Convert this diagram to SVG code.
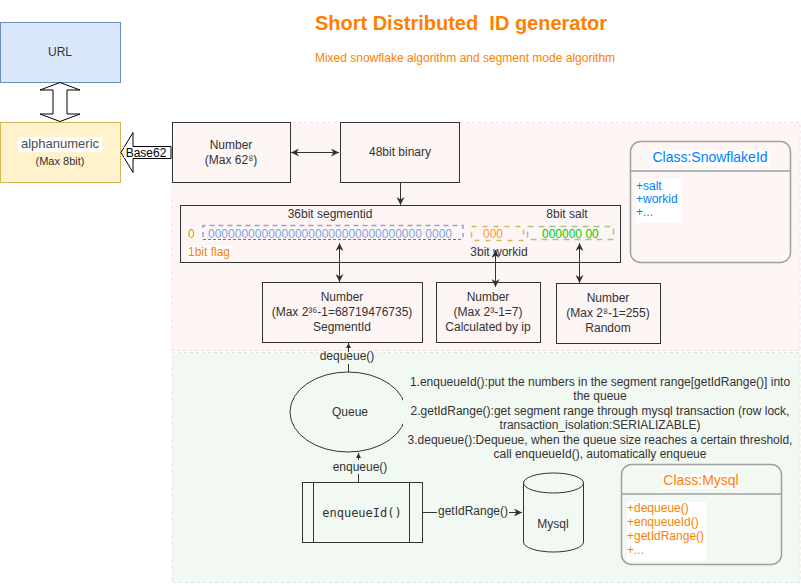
<svg xmlns="http://www.w3.org/2000/svg" width="801" height="586" viewBox="0 0 801 586">
<defs>
<marker id="arr" viewBox="0 0 10 10" refX="10" refY="5" markerWidth="8" markerHeight="8" markerUnits="userSpaceOnUse" orient="auto-start-reverse"><path d="M0,0 L10,5 L0,10 L3,5 z" fill="#333"/></marker>
<marker id="sm" viewBox="0 0 10 10" refX="10" refY="5" markerWidth="5" markerHeight="5" markerUnits="userSpaceOnUse" orient="auto-start-reverse"><path d="M0,0 L10,5 L0,10 z" fill="#333"/></marker>
</defs>
<style>
text{font-family:"Liberation Sans",Arial,sans-serif;font-size:12px;fill:#333}
.c{text-anchor:middle}
.box{fill:none;stroke:#333;stroke-width:1}
.conn{stroke:#333;stroke-width:1;fill:none}
.or{fill:#FF8000}
.bl{fill:#007FFF}
.cls{fill:none;stroke:#a0a0a0;stroke-width:1.5}
.wbg{fill:#fff}
.gbg{fill:#f2f8f2}
</style>
<rect width="801" height="586" fill="#fff"/>

<g id="region-snowflake">
<rect x="172" y="122.5" width="628" height="228" fill="#fef5f5" stroke="#f1dddc" stroke-dasharray="3 3"/>
</g>
<g id="region-segment">
<rect x="172" y="352.5" width="628" height="230" fill="#f2f8f2" stroke="#dde9d6" stroke-dasharray="3 3"/>
</g>

<g id="title">
<text x="461" y="30" class="c or" style="font-size:20px;font-weight:bold">Short Distributed &#160;ID generator</text>
<text x="465" y="62" class="c or">Mixed snowflake algorithm and segment mode algorithm</text>
</g>

<g id="url">
<rect x="0.5" y="22.5" width="120" height="60" fill="#dae8fc" stroke="#6c8ebf"/>
<text x="60" y="56" class="c">URL</text>
</g>

<g id="url-alnum-arrow">
<polygon points="60,82.5 80,90 67,90 67,114 80,114 60,121.5 40,114 53,114 53,90 40,90" fill="#fff" stroke="#000"/>
</g>

<g id="alphanumeric">
<rect x="0.5" y="122.5" width="120" height="60" fill="#fff2cc" stroke="#d6b656"/>
<rect x="18" y="137" width="84" height="15" class="wbg"/>
<text x="60" y="148" class="c" style="font-size:13px;fill:#4d4d4d">alphanumeric</text>
<text x="60" y="165" class="c" style="font-size:11px">(Max 8bit)</text>
</g>

<g id="base62-arrow">
<polygon points="121,152.5 133,132.5 133,146.5 171,146.5 171,158.5 133,158.5 133,172.5" fill="#fff" stroke="#000"/>
<rect x="124" y="147" width="46" height="11" class="wbg"/>
<text x="146" y="157" class="c" style="fill:#000">Base62</text>
</g>

<g id="number62">
<rect x="172.5" y="122.5" width="118" height="60" class="box"/>
<text x="231" y="149" class="c">Number</text>
<text x="231" y="164" class="c">(Max 62⁸)</text>
</g>

<g id="binary48">
<rect x="340.5" y="122.5" width="119" height="60" class="box"/>
<text x="400" y="156" class="c">48bit binary</text>
</g>

<g id="bits">
<rect x="180.5" y="205.5" width="440" height="57" class="box"/>
<text x="330" y="218" class="c">36bit segmentid</text>
<text x="567" y="218" class="c">8bit salt</text>
<rect x="188" y="227" width="8" height="12" class="wbg"/>
<text x="188" y="238" class="or">0</text>
<rect x="188" y="246" width="43" height="12" class="wbg"/>
<text x="188" y="256" class="or">1bit flag</text>
<path d="M203,237 L203,225.5 L463,225.5 L463,237" fill="none" stroke="#8fa6cc" stroke-width="1.5" stroke-dasharray="5 4"/>
<path d="M203,239.5 L463,239.5" fill="none" stroke="#777" stroke-width="1.2" stroke-dasharray="3 2"/>
<text x="208" y="238" textLength="244" style="fill:#7ea6e0">00000000000000000000000000000000 0000</text>
<rect x="471.5" y="226.5" width="52" height="14" fill="none" stroke="#d6b656" stroke-width="1.5" stroke-dasharray="5 6"/>
<text x="483" y="238" style="fill:#FF9933">000</text>
<rect x="527.5" y="226.5" width="86" height="13" fill="none" stroke="#a8c48e" stroke-width="1.5" stroke-dasharray="6 5"/>
<text x="542" y="238" style="fill:#00cc00">000000 00</text>
<text x="499" y="256" class="c">3bit workid</text>
</g>

<g id="num-segment">
<rect x="262.5" y="282.5" width="160" height="60" class="box"/>
<text x="342" y="301" class="c">Number</text>
<text x="342" y="316" class="c">(Max 2³⁶-1=68719476735)</text>
<text x="342" y="331" class="c">SegmentId</text>
</g>
<g id="num-workid">
<rect x="436.5" y="282.5" width="104" height="60" class="box"/>
<text x="488" y="301" class="c">Number</text>
<text x="488" y="316" class="c">(Max 2³-1=7)</text>
<text x="488" y="331" class="c">Calculated by ip</text>
</g>
<g id="num-salt">
<rect x="556.5" y="283.5" width="104" height="60" class="box"/>
<text x="608" y="302" class="c">Number</text>
<text x="608" y="317" class="c">(Max 2⁸-1=255)</text>
<text x="608" y="332" class="c">Random</text>
</g>

<g id="class-snowflake">
<rect x="630.5" y="141.5" width="160" height="121" rx="10" class="cls"/>
<line x1="630.5" y1="171" x2="790.5" y2="171" stroke="#a0a0a0" stroke-width="1.5"/>
<rect x="652" y="150" width="117" height="17" class="wbg"/>
<text x="710" y="162" class="c bl" style="font-size:14px">Class:SnowflakeId</text>
<rect x="636" y="179" width="45" height="44" class="wbg"/>
<text x="636" y="190" class="bl">+salt</text>
<text x="636" y="203" class="bl">+workid</text>
<text x="636" y="216" class="bl">+...</text>
</g>

<g id="queue">
<ellipse cx="348" cy="412" rx="58" ry="40" fill="none" stroke="#333"/>
<text x="350" y="416" class="c">Queue</text>
</g>

<g id="notes">
<rect x="403" y="370" width="393" height="92" class="gbg"/>
<text x="600" y="386" class="c">1.enqueueId():put the numbers in the segment range[getIdRange()] into</text>
<text x="600" y="400" class="c">the queue</text>
<text x="600" y="415" class="c">2.getIdRange():get segment range through mysql transaction (row lock,</text>
<text x="600" y="429" class="c">transaction_isolation:SERIALIZABLE)</text>
<text x="600" y="444" class="c">3.dequeue():Dequeue, when the queue size reaches a certain threshold,</text>
<text x="600" y="458" class="c">call enqueueId(), automatically enqueue</text>
</g>

<g id="enqueueId">
<rect x="302.5" y="482.5" width="120" height="60" class="box"/>
<line x1="313.5" y1="482.5" x2="313.5" y2="542.5" stroke="#333"/>
<line x1="409.5" y1="482.5" x2="409.5" y2="542.5" stroke="#333"/>
<text x="362" y="517" class="c" style="font-family:'DejaVu Sans Mono','Liberation Mono',monospace;font-size:12px">enqueueId()</text>
</g>

<g id="mysql">
<path d="M523.5,483 A30,10 0 0 1 583.5,483 L583.5,542 A30,10 0 0 1 523.5,542 Z" fill="none" stroke="#333"/>
<path d="M523.5,483 A30,10 0 0 0 583.5,483" fill="none" stroke="#333"/>
<text x="553" y="528" class="c">Mysql</text>
</g>

<g id="class-mysql">
<rect x="621.5" y="464.5" width="160" height="100" rx="10" class="cls"/>
<line x1="621.5" y1="494" x2="781.5" y2="494" stroke="#a0a0a0" stroke-width="1.5"/>
<rect x="662" y="474" width="78" height="15" class="wbg"/>
<text x="701" y="485" class="c or" style="font-size:14px">Class:Mysql</text>
<rect x="627" y="502" width="79" height="59" class="wbg"/>
<text x="627" y="512" class="or">+dequeue()</text>
<text x="627" y="526" class="or">+enqueueId()</text>
<text x="627" y="540" class="or">+getIdRange()</text>
<text x="627" y="554" class="or">+...</text>
</g>

<g id="connectors">
<line x1="291" y1="152.5" x2="339" y2="152.5" class="conn" marker-start="url(#arr)" marker-end="url(#arr)"/>
<line x1="400.5" y1="182.5" x2="400.5" y2="205" class="conn" marker-end="url(#arr)"/>
<line x1="339.5" y1="243" x2="339.5" y2="282" class="conn" marker-start="url(#arr)" marker-end="url(#arr)"/>
<line x1="495.5" y1="250" x2="495.5" y2="287" class="conn" marker-start="url(#arr)" marker-end="url(#arr)"/>
<line x1="579.5" y1="243" x2="579.5" y2="283" class="conn" marker-start="url(#arr)" marker-end="url(#arr)"/>
<line x1="348.5" y1="372" x2="348.5" y2="343" class="conn" marker-end="url(#sm)"/>
<rect x="318" y="352" width="60" height="12" class="gbg"/>
<text x="347" y="360" class="c">dequeue()</text>
<line x1="358.5" y1="482" x2="358.5" y2="453" class="conn" marker-end="url(#sm)"/>
<rect x="330" y="460" width="60" height="14" class="gbg"/>
<text x="360" y="471" class="c">enqueue()</text>
<line x1="422.5" y1="512.5" x2="522" y2="512.5" class="conn" marker-end="url(#arr)"/>
<rect x="437" y="505" width="72" height="14" class="gbg"/>
<text x="473" y="515" class="c">getIdRange()</text>
</g>
</svg>
